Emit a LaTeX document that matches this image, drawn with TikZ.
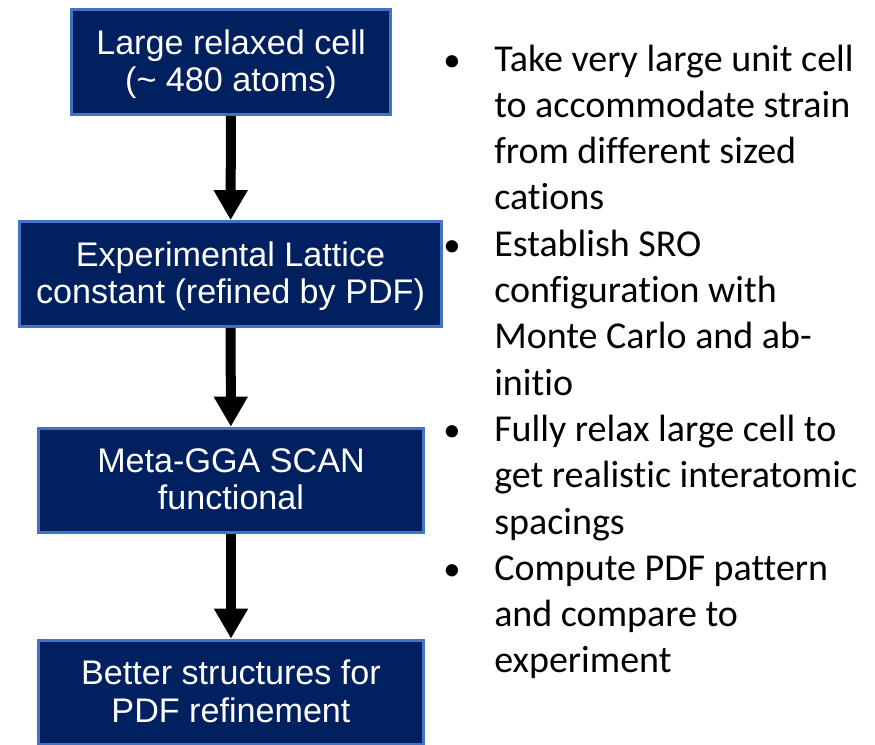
\documentclass[tikz,border=0pt]{standalone}
\usepackage{fontspec}
\setmainfont{Carlito}[Ligatures=NoCommon]
\newfontfamily\boxfont{Liberation Sans}
\usetikzlibrary{arrows.meta,positioning}

\definecolor{navy}{RGB}{0,32,96}
\definecolor{boxedge}{RGB}{68,114,196}

\begin{document}
\begin{tikzpicture}[x=0.75pt,y=-0.75pt,
    stage/.style={rectangle,draw=boxedge,fill=navy,line width=2.25pt,text=white,align=center,minimum height=78.5pt,inner sep=0pt,text depth=2pt,font=\boxfont\fontsize{25.6}{28}\selectfont},
    flowarrow/.style={-{Triangle[width=24pt,length=22.5pt]},line width=7.5pt,black},
    bullettext/.style={anchor=base west,inner sep=0pt,font=\fontsize{28.5}{34.7}\selectfont},
    dot/.style={anchor=base,inner sep=0pt,font=\fontsize{26}{34.7}\selectfont}
]
\useasboundingbox (0,0) rectangle (875,744);

% Flow of stages
\node[stage,minimum width=239.25pt] (cell) at (231,62) {Large relaxed cell\\(\string~ 480 atoms)};
\node[stage,minimum width=316.5pt] (lattice) at (230.5,274) {Experimental Lattice\\constant (refined by PDF)};
\node[stage,minimum width=288.75pt] (scan) at (231,480.5) {Meta-GGA SCAN\\functional};
\node[stage,minimum width=288.75pt] (better) at (231,692.5) {Better structures for\\PDF refinement};

% Connection arrows
\draw[flowarrow] (cell) -- (lattice);
\draw[flowarrow] (lattice) -- (scan);
\draw[flowarrow] (scan) -- (better);

% Bullet list
\foreach \t [count=\n from 0] in {Take very large unit cell,to accommodate strain,from different sized,cations,Establish SRO,configuration with,Monte Carlo and ab-,initio,Fully relax large cell to,get realistic interatomic,spacings,Compute PDF pattern,and compare to,experiment} {
    \node[bullettext] (line\n) at (494,{71+46.3*\n}) {\t};
}
\foreach \n in {0,4,8,11} {
    \node[dot] (bullet\n) at (452,{71+46.3*\n}) {\textbullet};
}

\end{tikzpicture}
\end{document}
